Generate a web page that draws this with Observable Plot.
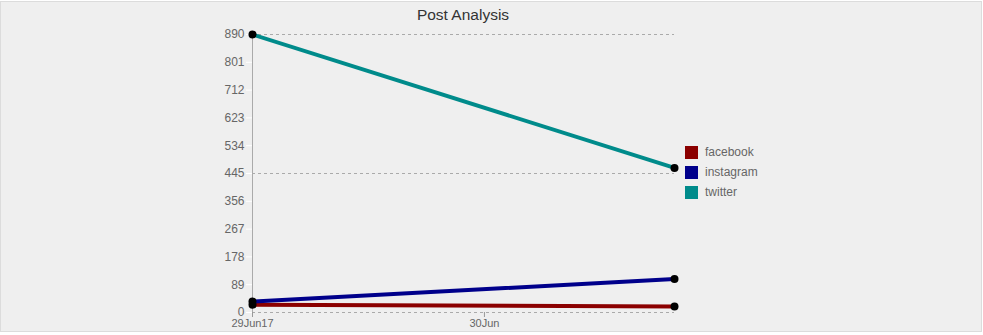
<!DOCTYPE html>
<html>
<head>
<meta charset="utf-8">
<script src="https://cdn.jsdelivr.net/npm/d3@7"></script>
<script src="https://cdn.jsdelivr.net/npm/@observablehq/plot@0.6"></script>
<style>
  html, body { margin: 0; padding: 0; background: #ffffff; }
  #wrap { position: relative; width: 983px; height: 335px; overflow: hidden; font-family: "Liberation Sans", Arial, Helvetica, sans-serif; }
  #box { position: absolute; left: 0; top: 1px; width: 982px; height: 331px; box-sizing: border-box; border: 1px solid #dcdcdc; background: #efefef; }
  #title { position: absolute; left: 252px; width: 422px; top: 6px; text-align: center; font-size: 15.5px; color: #333; }
  #chart { position: absolute; left: 0; top: 27px; }
  #legend { position: absolute; left: 685px; top: 146px; font-size: 12px; color: #666; }
  .item { height: 20px; display: flex; align-items: flex-start; }
  .sw { width: 13px; height: 13px; margin-right: 7px; }
  .lab { line-height: 13px; }
</style>
</head>
<body>
<div id="wrap">
  <div id="box"></div>
  <div id="title">Post Analysis</div>
  <div id="chart"></div>
  <div id="legend"></div>
</div>
<script>
// Data
const dates = ["2017-06-29T00:00Z", "2017-06-30T19:40Z"];
const seriesNames = ["facebook", "instagram", "twitter"];
const seriesColors = ["#8b0000", "#00008b", "#008b8b"];
const facebook = [25, 19];
const instagram = [35, 107];
const twitter = [890, 463];
const yTicks = [0, 89, 178, 267, 356, 445, 534, 623, 712, 801, 890];
const gridValues = [445, 890];
const xTickDates = ["2017-06-29T00:00Z", "2017-06-30T00:00Z"];
const xTickLabels = ["29Jun17", "30Jun"];

const values = { facebook, instagram, twitter };
const rows = [];
seriesNames.forEach(name => {
  values[name].forEach((v, i) => rows.push({ series: name, date: new Date(dates[i]), value: v }));
});
const xTicks = xTickDates.map(d => new Date(d));
const labelFor = new Map(xTicks.map((d, i) => [+d, xTickLabels[i]]));

const plot = Plot.plot({
  width: 983,
  height: 305,
  marginLeft: 252,
  marginRight: 309,
  marginTop: 7,
  marginBottom: 20,
  style: { background: "transparent", fontFamily: "Liberation Sans, Arial, sans-serif", color: "#666" },
  x: { type: "utc", domain: [new Date(dates[0]), new Date(dates[1])] },
  y: { domain: [0, 890] },
  color: { domain: seriesNames, range: seriesColors },
  marks: [
    Plot.ruleY(gridValues, { stroke: "#aaa", strokeDasharray: "3,3" }),
    Plot.ruleY([0], { stroke: "#aaa", strokeDasharray: "3,3" }),
    Plot.ruleX([new Date(dates[0])], { y1: 0, y2: 890, stroke: "#aaa" }),
    Plot.axisY({ ticks: yTicks, tickSize: 6, tickPadding: 2, stroke: "#ffffff", fill: "#666", fontSize: 12, label: null, tickFormat: d => String(d) }),
    Plot.axisX({ ticks: xTicks, tickSize: 5, tickPadding: 2, stroke: "#999", fill: "#666", fontSize: 11, label: null, tickFormat: d => labelFor.get(+d) }),
    Plot.line(rows, { x: "date", y: "value", z: "series", stroke: "series", strokeWidth: 4 }),
    Plot.dot(rows, { x: "date", y: "value", r: 4, fill: "black" })
  ]
});
document.getElementById("chart").appendChild(plot);

const legend = document.getElementById("legend");
seriesNames.forEach((name, i) => {
  const item = document.createElement("div");
  item.className = "item";
  item.innerHTML = `<div class="sw" style="background:${seriesColors[i]}"></div><div class="lab">${name}</div>`;
  legend.appendChild(item);
});
</script>
</body>
</html>
